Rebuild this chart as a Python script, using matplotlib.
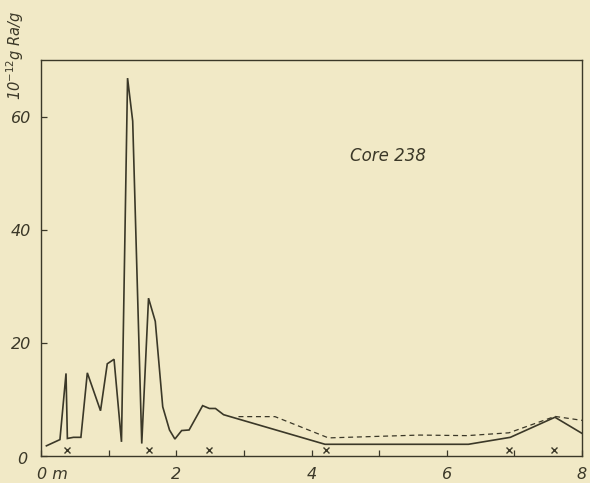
import matplotlib
matplotlib.use("Agg")
import matplotlib.pyplot as plt
from matplotlib.transforms import ScaledTranslation

# Solid curve: radium content vs depth (m)
depth_solid = [0.08, 0.28, 0.37, 0.39, 0.48, 0.59, 0.685, 0.88, 0.98, 1.08, 1.19,
               1.28, 1.356, 1.49, 1.59, 1.69, 1.80, 1.90, 1.98, 2.08, 2.19, 2.39,
               2.49, 2.58, 2.70, 4.20, 6.32, 6.94, 7.60, 8.00]
ra_solid = [1.8, 2.9, 14.6, 3.1, 3.3, 3.3, 14.7, 8.0, 16.3, 17.1, 2.5,
            66.8, 59.2, 2.2, 27.9, 23.8, 8.7, 4.6, 3.0, 4.5, 4.6, 8.9,
            8.4, 8.4, 7.3, 2.07, 2.07, 3.3, 6.85, 4.0]

# Dashed curve
depth_dashed = [2.92, 3.46, 4.25, 5.6, 6.3, 6.92, 7.60, 8.00]
ra_dashed = [6.96, 6.96, 3.2, 3.7, 3.6, 4.1, 7.0, 6.3]

# Sample markers (x)
depth_marks = [0.38, 1.60, 2.49, 4.22, 6.92, 7.58]
ra_marks = [1.1, 1.1, 1.1, 1.1, 1.1, 1.1]

xtick_pos = [0, 1, 2, 3, 4, 5, 6, 7, 8]
xtick_labels = ["0 m", "", "2", "", "4", "", "6", "", "8"]
ytick_pos = [0, 20, 40, 60]
ytick_labels = ["0", "20", "40", "60"]

bg = "#f1e9c6"
ink = "#3b3828"

fig = plt.figure(figsize=(5.9, 4.83), dpi=100, facecolor=bg)
ax = fig.add_axes([41/590, 1 - 456/483, (582-41)/590, (456-60)/483])
ax.set_facecolor(bg)

ax.plot(depth_solid, ra_solid, color=ink, lw=1.2, solid_joinstyle="miter")
ax.plot(depth_dashed, ra_dashed, color=ink, lw=0.9, dashes=(4, 3))
ax.plot(depth_marks, ra_marks, linestyle="none", marker="x", color=ink,
        markersize=4.5, markeredgewidth=1.0)

ax.set_xlim(0, 8)
ax.set_ylim(0, 70)

for s in ax.spines.values():
    s.set_color(ink)
    s.set_linewidth(1.0)

ax.set_xticks(xtick_pos)
ax.set_xticklabels(xtick_labels)
ax.set_yticks(ytick_pos)
ax.set_yticklabels(ytick_labels)
ax.tick_params(axis="both", direction="in", length=4, width=0.9, color=ink,
               labelcolor=ink, labelsize=11.5)
ax.tick_params(axis="x", pad=8)
ax.tick_params(axis="y", pad=7)
for lab in ax.get_xticklabels() + ax.get_yticklabels():
    lab.set_fontstyle("italic")
    lab.set_fontweight("light")
x0 = ax.get_xticklabels()[0]
x0.set_horizontalalignment("left")
x0.set_transform(x0.get_transform() + ScaledTranslation(-4/100, 0, fig.dpi_scale_trans))
y0 = ax.get_yticklabels()[0]
y0.set_transform(y0.get_transform() + ScaledTranslation(-4/100, -2/100, fig.dpi_scale_trans))

ax.text(388/590, 1 - 156/483, "Core 238", transform=fig.transFigure,
        ha="center", va="center", fontsize=12, style="italic", color=ink)

fig.text(15/590, 1 - 55/483, r"10$^{-12}$g Ra/g", rotation=90,
         ha="center", va="center", fontsize=10.5, style="italic", color=ink)

fig.savefig("out.png", dpi=100, facecolor=bg)
